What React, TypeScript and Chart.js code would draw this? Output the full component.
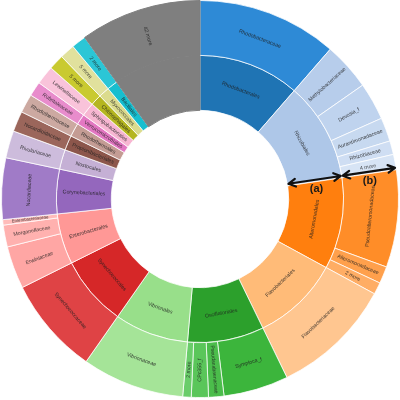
import React, { useEffect, useRef } from "react";
import { Chart, registerables } from "chart.js";

Chart.register(...registerables);

// Inner ring: orders (relative abundance, %)
const orders = [
  "Rhodobacterales", "Rhizobiales", "Alteromonadales", "Flavobacteriales",
  "Oscillatoriales", "Vibrionales", "Synechococcales", "Enterobacterales",
  "Corynebacteriales", "Nostocales", "Propionibacteriales", "Rhodothermales",
  "Verrucomicrobiales", "Sphingobacteriales", "Chitinophagales", "Myxococcales",
  "Bacillales", "",
];
const orderValues = [
  11.39, 11.25, 10.28, 9.86, 8.61, 8.33, 7.92, 5.69, 5.0, 2.22, 1.67, 1.53,
  1.19, 1.53, 1.25, 1.22, 1.19, 9.86,
];

// Outer ring: families (relative abundance, %)
const families = [
  "Rhodobacteraceae",
  "Methylobacteriaceae", "Devosia_f", "Aurantimonadaceae", "Rhizobiaceae", "4 more",
  "Pseudoalteromonadaceae", "Alteromonadaceae", "2 more",
  "Flavobacteriaceae",
  "Symploca_f", "Pseudanabaenaceae", "CPc355_f", "2 more",
  "Vibrionaceae",
  "Synechococcaceae",
  "Erwiniaceae", "Morganellaceae", "Enterobacteriaceae",
  "Nocardiaceae",
  "Rivulariaceae",
  "Nocardioidaceae",
  "Rhodothermaceae",
  "Rubritaleaceae",
  "Lewinellaceae",
  "5 more",
  "5 more",
  "2 more",
  "42 more",
];
const familyValues = [
  11.39,
  3.89, 3.06, 1.94, 1.11, 1.25,
  7.92, 1.39, 0.97,
  9.86,
  5.28, 1.25, 1.39, 0.69,
  8.33,
  7.92,
  3.47, 1.78, 0.44,
  5.0,
  2.22,
  1.67,
  1.53,
  1.19,
  1.53,
  1.25,
  1.22,
  1.19,
  9.86,
];

// Colours (style, kept apart from the data)
const orderColors = [
  "#1f74b4", "#aec7e8", "#ff7f0e", "#ffbb78", "#2ca02c", "#98df8a", "#d62728",
  "#ff9896", "#9467bd", "#c5b0d5", "#8c564b", "#c49c94", "#e377c2", "#f7b6d2",
  "#b5b620", "#dbdb8d", "#17becf", "#7f7f7f",
];
const familyColors = [
  "#2e8ad6",
  "#b7cdeb", "#bfd3ee", "#c7d9f0", "#cfdef3", "#d7e4f5",
  "#ff8d28", "#ffa04c", "#ffad64",
  "#ffc690",
  "#3cb53c", "#4bbd4b", "#5ac65a", "#6acd6a",
  "#a5e498",
  "#df4345",
  "#ffa6a4", "#ffb1af", "#ffbcba",
  "#a07bc7",
  "#cdbcdc",
  "#9b665b",
  "#cca9a1",
  "#e88ccc",
  "#f9c3da",
  "#c9ca30",
  "#e1e19d",
  "#2bc6d6",
  "#7f7f7f",
];

const FONT = '"Liberation Sans", Arial, sans-serif';

const labelPlugin = {
  id: "sunLabels",
  afterDatasetsDraw(chart: any) {
    const ctx = chart.ctx;
    chart.data.datasets.forEach((ds: any, di: number) => {
      const meta = chart.getDatasetMeta(di);
      const names: string[] = ds.names;
      meta.data.forEach((el: any, i: number) => {
        const text = names[i];
        if (!text) return;
        const p = el.getProps(
          ["x", "y", "startAngle", "endAngle", "innerRadius", "outerRadius"],
          true
        );
        const a = (p.startAngle + p.endAngle) / 2;
        const r = (p.innerRadius + p.outerRadius) / 2;
        const span = p.endAngle - p.startAngle;
        const arc = span * r;
        const thick = p.outerRadius - p.innerRadius;
        const tangential = arc >= thick * 0.95 && text !== "42 more";
        let rot = tangential ? a + Math.PI / 2 : a;
        while (rot > Math.PI / 2) rot -= Math.PI;
        while (rot <= -Math.PI / 2) rot += Math.PI;
        const availLen = tangential ? arc * 0.85 : thick * 0.88;
        const availH = tangential ? thick * 0.8 : arc * 0.9;
        let size = 5.3;
        ctx.font = `${size}px ${FONT}`;
        const w = ctx.measureText(text).width;
        size = Math.min(size, (size * availLen) / w, availH);
        if (size < 2.5) return;
        const cx = p.x + r * Math.cos(a);
        const cy = p.y + r * Math.sin(a);
        ctx.save();
        ctx.translate(cx, cy);
        ctx.rotate(rot);
        ctx.font = `${size}px ${FONT}`;
        ctx.fillStyle = "rgba(30,30,30,0.85)";
        ctx.textAlign = "center";
        ctx.textBaseline = "middle";
        ctx.fillText(text, 0, 0);
        ctx.restore();
      });
    });
  },
};

function drawArrow(ctx: any, x1: number, y1: number, x2: number, y2: number) {
  const ang = Math.atan2(y2 - y1, x2 - x1);
  const hl = 8;
  const ha = 0.5;
  ctx.beginPath();
  ctx.moveTo(x1, y1);
  ctx.lineTo(x2, y2);
  ctx.moveTo(x2 - hl * Math.cos(ang - ha), y2 - hl * Math.sin(ang - ha));
  ctx.lineTo(x2, y2);
  ctx.lineTo(x2 - hl * Math.cos(ang + ha), y2 - hl * Math.sin(ang + ha));
  ctx.moveTo(x1 + hl * Math.cos(ang - ha), y1 + hl * Math.sin(ang - ha));
  ctx.lineTo(x1, y1);
  ctx.lineTo(x1 + hl * Math.cos(ang + ha), y1 + hl * Math.sin(ang + ha));
  ctx.stroke();
}

const arrowPlugin = {
  id: "ringArrows",
  afterDraw(chart: any) {
    const ctx = chart.ctx;
    const meta = chart.getDatasetMeta(1);
    const idx = orders.indexOf("Alteromonadales");
    const el = meta.data[idx];
    if (!el) return;
    const p = el.getProps(["x", "y", "startAngle", "innerRadius", "outerRadius"], true);
    const outerMeta = chart.getDatasetMeta(0);
    const oel = outerMeta.data[0].getProps(["outerRadius"], true);
    const a = p.startAngle;
    const ux = Math.cos(a);
    const uy = Math.sin(a);
    const nx = Math.sin(a);
    const ny = -Math.cos(a);
    const off = 2;
    const pt = (r: number, o: number) => [p.x + r * ux + o * nx, p.y + r * uy + o * ny];
    ctx.save();
    ctx.strokeStyle = "#111";
    ctx.lineWidth = 2.2;
    ctx.lineCap = "round";
    ctx.lineJoin = "round";
    const r0 = p.innerRadius + 1;
    const r1 = p.outerRadius;
    const r2 = oel.outerRadius - 1;
    let [ax, ay] = pt(r0, off);
    let [bx, by] = pt(r1 - 1, off);
    drawArrow(ctx, ax, ay, bx, by);
    [ax, ay] = pt(r1 + 1, off);
    [bx, by] = pt(r2, off);
    drawArrow(ctx, ax, ay, bx, by);
    ctx.fillStyle = "#1a1a1a";
    ctx.font = `bold 11px ${FONT}`;
    ctx.textAlign = "center";
    ctx.textBaseline = "middle";
    let [lx, ly] = pt((r0 + r1) / 2, -7.5);
    ctx.fillText("(a)", lx, ly);
    [lx, ly] = pt((r1 + r2) / 2, -7.5);
    ctx.fillText("(b)", lx, ly);
    ctx.restore();
  },
};

export default function App() {
  const ref = useRef<HTMLCanvasElement | null>(null);
  useEffect(() => {
    if (!ref.current) return;
    const grayBorder = (colors: string[]) =>
      colors.map((c) => (c === "#7f7f7f" ? "#7f7f7f" : "rgba(255,255,255,0.75)"));
    const chart = new Chart(ref.current, {
      type: "doughnut",
      data: {
        labels: families,
        datasets: [
          {
            data: familyValues,
            backgroundColor: familyColors,
            borderColor: grayBorder(familyColors),
            borderWidth: 1,
            names: families,
          } as any,
          {
            data: orderValues,
            backgroundColor: orderColors,
            borderColor: grayBorder(orderColors),
            borderWidth: 1,
            names: orders,
          } as any,
        ],
      },
      options: {
        animation: false,
        responsive: true,
        maintainAspectRatio: false,
        cutout: "44.7%",
        layout: { padding: { left: 1, right: 1, top: 0, bottom: 2 } },
        plugins: {
          legend: { display: false },
          tooltip: { enabled: false },
        },
        elements: { arc: { hoverOffset: 0, offset: 0 } as any },
        events: [],
      },
      plugins: [labelPlugin, arrowPlugin],
    });
    return () => chart.destroy();
  }, []);
  return (
    <div style={{ position: "absolute", left: 0, top: 0, width: 400, height: 400, background: "#fff" }}>
      <canvas ref={ref} />
    </div>
  );
}
